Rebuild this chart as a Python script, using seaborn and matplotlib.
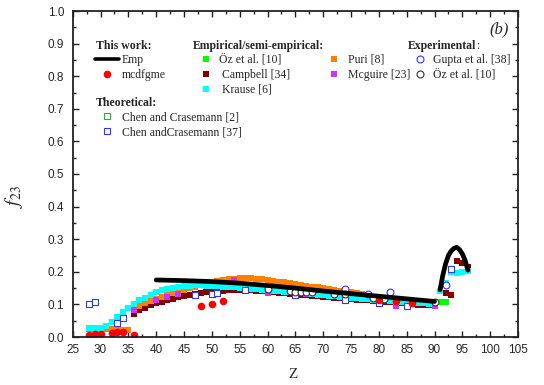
import numpy as np
import pandas as pd
import matplotlib
matplotlib.use("Agg")
import matplotlib.pyplot as plt
from matplotlib.lines import Line2D
from matplotlib.ticker import MultipleLocator, FormatStrFormatter
import seaborn as sns

# ---------------- data ----------------
emp_z = [40, 45, 50, 55, 60, 65, 70, 75, 80, 85, 90]
emp_f = [0.175, 0.173, 0.170, 0.165, 0.158, 0.150, 0.141, 0.133, 0.125, 0.117, 0.109]
emp_peak_z = [91, 91.5, 92, 92.5, 93, 93.5, 94, 94.5, 95, 95.5, 96]
emp_peak_f = [0.145, 0.190, 0.225, 0.250, 0.264, 0.272, 0.275, 0.268, 0.255, 0.235, 0.205]

mcdf_z = [28, 29, 30, 32, 33, 34, 36, 48, 50, 52, 80, 83, 86]
mcdf_f = [0.007, 0.008, 0.009, 0.011, 0.016, 0.015, 0.006, 0.095, 0.100, 0.111, 0.114, 0.109, 0.104]

krause_z = list(range(28, 97))
krause_f = [0.027, 0.027, 0.028, 0.033, 0.046, 0.062, 0.078, 0.090, 0.102, 0.112,
            0.121, 0.130, 0.137, 0.143, 0.147, 0.151, 0.154, 0.156, 0.157, 0.158,
            0.158, 0.157, 0.156, 0.155, 0.154, 0.153, 0.152, 0.151, 0.150, 0.148,
            0.147, 0.145, 0.144, 0.142, 0.141, 0.139, 0.138, 0.136, 0.135, 0.133,
            0.132, 0.130, 0.129, 0.127, 0.126, 0.124, 0.123, 0.121, 0.120, 0.118,
            0.117, 0.115, 0.114, 0.112, 0.111, 0.109, 0.108, 0.106, 0.105, 0.104,
            0.103, 0.102, 0.101, 0.142, 0.165, 0.198, 0.196, 0.198, 0.203]

campbell_z = list(range(36, 97))
campbell_f = [0.072, 0.082, 0.090, 0.097, 0.103, 0.108, 0.113, 0.118, 0.122, 0.126,
              0.129, 0.132, 0.135, 0.137, 0.139, 0.141, 0.142, 0.143, 0.144, 0.145,
              0.144, 0.143, 0.142, 0.140, 0.139, 0.137, 0.136, 0.134, 0.133, 0.131,
              0.130, 0.128, 0.127, 0.125, 0.124, 0.122, 0.121, 0.119, 0.118, 0.116,
              0.115, 0.113, 0.112, 0.110, 0.109, 0.107, 0.106, 0.104, 0.103, 0.101,
              0.100, 0.099, 0.098, 0.097, 0.096, 0.140, 0.136, 0.130, 0.232, 0.226,
              0.216]

puri_z = list(range(28, 79))
puri_f = [0.024, 0.024, 0.024, 0.024, 0.024, 0.024, 0.023, 0.022, 0.088, 0.096,
          0.104, 0.111, 0.118, 0.124, 0.129, 0.134, 0.139, 0.144, 0.149, 0.154,
          0.158, 0.163, 0.167, 0.171, 0.174, 0.177, 0.179, 0.180, 0.181, 0.180,
          0.179, 0.177, 0.175, 0.173, 0.170, 0.168, 0.165, 0.162, 0.160, 0.157,
          0.154, 0.152, 0.149, 0.147, 0.144, 0.142, 0.139, 0.137, 0.134, 0.132,
          0.129]

mcguire_z = [36, 40, 42, 44, 54, 60, 67, 74, 83, 90]
mcguire_f = [0.083, 0.113, 0.122, 0.131, 0.176, 0.135, 0.132, 0.113, 0.095, 0.094]

oz_emp_z = [91, 92]
oz_emp_f = [0.106, 0.106]

chen37_z = [28, 29, 33, 34, 47, 50, 51, 56, 65, 74, 80, 85, 93]
chen37_f = [0.102, 0.108, 0.044, 0.058, 0.129, 0.132, 0.135, 0.143, 0.128, 0.115, 0.103, 0.095, 0.210]

chen2_z = []
chen2_f = []

gupta_z = [74, 78, 82, 92]
gupta_f = [0.146, 0.133, 0.138, 0.158]

oz_exp_z = [60, 64, 65, 66, 67, 68, 72, 74, 79, 81, 90]
oz_exp_f = [0.148, 0.140, 0.139, 0.138, 0.138, 0.137, 0.133, 0.131, 0.120, 0.117, 0.108]

x_ticks = list(range(25, 106, 5))
y_ticks = [0.0, 0.1, 0.2, 0.3, 0.4, 0.5, 0.6, 0.7, 0.8, 0.9, 1.0]

# ---------------- style ----------------
sns.set_theme(style="ticks")
plt.rcParams["font.family"] = ["Liberation Sans", "DejaVu Sans"]
plt.rcParams["mathtext.fontset"] = "stix"
SERIF = "Liberation Serif"

W, H = 544, 385
fig = plt.figure(figsize=(W / 100, H / 100), dpi=100)
L, R, T, B = 72.7, 518, 11, 337
ax = fig.add_axes([L / W, 1 - B / H, (R - L) / W, (B - T) / H])

def df(z, f):
    return pd.DataFrame({"Z": z, "f": f})

fill_kw = dict(marker="s", linewidth=0, legend=False, ax=ax)
sns.scatterplot(data=df(campbell_z, campbell_f), x="Z", y="f", color="#800000", s=25, **fill_kw)
sns.scatterplot(data=df(puri_z, puri_f), x="Z", y="f", color="#FF8000", s=25, **fill_kw)
sns.scatterplot(data=df(krause_z, krause_f), x="Z", y="f", color="#00FFFF", s=25, **fill_kw)
sns.scatterplot(data=df(mcguire_z, mcguire_f), x="Z", y="f", color="#CC33FF", s=25, **fill_kw)
sns.scatterplot(data=df(oz_emp_z, oz_emp_f), x="Z", y="f", color="#00FF00", s=25, **fill_kw)

sns.lineplot(data=df(emp_z, emp_f), x="Z", y="f", color="black", linewidth=3.4,
             sort=False, estimator=None, ax=ax, solid_capstyle="round")
sns.lineplot(data=df(emp_peak_z, emp_peak_f), x="Z", y="f", color="black", linewidth=3.4,
             sort=False, estimator=None, ax=ax, solid_capstyle="round")

open_kw = dict(facecolor="white", linewidth=0.8, legend=False, ax=ax)
sns.scatterplot(data=df(chen37_z, chen37_f), x="Z", y="f", marker="s", edgecolor="#3333FF", s=20, **open_kw)
if len(chen2_z):
    sns.scatterplot(data=df(chen2_z, chen2_f), x="Z", y="f", marker="s", edgecolor="#00CC00", s=20, **open_kw)
sns.scatterplot(data=df(gupta_z, gupta_f), x="Z", y="f", marker="o", edgecolor="#3333FF", s=24, **open_kw)
sns.scatterplot(data=df(oz_exp_z, oz_exp_f), x="Z", y="f", marker="o", edgecolor="#333333", s=24, **open_kw)

sns.scatterplot(data=df(mcdf_z, mcdf_f), x="Z", y="f", marker="o", color="#FF0000", s=30,
                linewidth=0, legend=False, ax=ax)

# ---------------- axes ----------------
ax.set_xlim(25, 105)
ax.set_ylim(0, 1.0)
ax.set_xticks(x_ticks)
ax.set_yticks(y_ticks)
ax.yaxis.set_major_formatter(FormatStrFormatter("%.1f"))
ax.xaxis.set_minor_locator(MultipleLocator(2.5))
ax.yaxis.set_minor_locator(MultipleLocator(0.05))
ax.tick_params(which="both", direction="in", top=True, right=True, color="#222222", labelsize=8.5)
ax.tick_params(which="major", length=4.5, width=1.0)
ax.tick_params(which="minor", length=2.5, width=1.0)
ax.tick_params(axis="y", pad=6)
ax.tick_params(axis="x", pad=5)
for sp in ax.spines.values():
    sp.set_linewidth(1.3)
    sp.set_color("#222222")

ax.set_xlabel("Z", fontfamily=SERIF, fontsize=11)
ax.set_ylabel(r"$f_{23}$", fontsize=14)
ax.yaxis.set_label_coords(-0.108, 0.43)
ax.xaxis.set_label_coords(0.495, -0.095)

ax.text(0.958, 0.945, "(b)", transform=ax.transAxes, fontfamily=SERIF, fontstyle="italic",
        fontsize=12, ha="center", va="center")

# ---------------- legends ----------------
def fp(x, y):
    return (x / W, 1 - y / H)

prop = {"family": SERIF, "size": 8.5}
hdr = dict(fontfamily=SERIF, fontsize=8.5, fontweight="bold", va="center", ha="left")

fig.text(*fp(96, 45.7), "This work:", **hdr)
fig.text(*fp(193.3, 45.7), "Empirical/semi-empirical:", **hdr)
t_exp = fig.text(*fp(407.7, 45.7), "Experimental", **hdr)
fig.text(*fp(96, 103.3), "Theoretical:", **hdr)
ax.annotate(":", xy=(1, 0.5), xycoords=t_exp, va="center", ha="left",
            fontfamily=SERIF, fontsize=8.5)

common = dict(loc="upper left", frameon=False, borderpad=0, borderaxespad=0,
              prop=prop, labelspacing=0.25, bbox_transform=fig.transFigure)

h1 = [Line2D([], [], color="black", lw=2.6),
      Line2D([], [], marker="o", ls="", color="#FF0000", markersize=5.5, markeredgewidth=0)]
fig.legend(h1, ["Emp", "mcdfgme"], bbox_to_anchor=fp(95, 54), handlelength=2.0,
           handletextpad=0.25, **common)

sq = dict(marker="s", ls="", markersize=5, markeredgewidth=0)
h2 = [Line2D([], [], color="#00FF00", **sq),
      Line2D([], [], color="#800000", **sq),
      Line2D([], [], color="#00FFFF", **sq),
      Line2D([], [], color="#FF8000", **sq),
      Line2D([], [], color="#CC33FF", **sq)]
fig.legend(h2, ["Öz et al. [10]", " Campbell [34]", " Krause [6]", "Puri [8]", "Mcguire [23]"],
           ncol=2, bbox_to_anchor=fp(200, 54), handlelength=1.0, handletextpad=0.65,
           columnspacing=3.2, **common)

h3 = [Line2D([], [], marker="o", ls="", markerfacecolor="white", markeredgecolor="#3333FF",
             markersize=5, markeredgewidth=0.8),
      Line2D([], [], marker="o", ls="", markerfacecolor="white", markeredgecolor="#333333",
             markersize=5, markeredgewidth=0.8)]
fig.legend(h3, ["Gupta et al. [38]", "Öz et al. [10]"], bbox_to_anchor=fp(414, 54),
           handlelength=1.0, handletextpad=0.65, **common)

h4 = [Line2D([], [], marker="s", ls="", markerfacecolor="white", markeredgecolor="#00CC00",
             markersize=5, markeredgewidth=0.8),
      Line2D([], [], marker="s", ls="", markerfacecolor="white", markeredgecolor="#3333FF",
             markersize=5, markeredgewidth=0.8)]
fig.legend(h4, ["Chen and Crasemann [2]", "Chen andCrasemann [37]"], bbox_to_anchor=fp(95, 111.5),
           handlelength=2.0, handletextpad=0.25, **common)

fig.savefig("out.png", dpi=100)
